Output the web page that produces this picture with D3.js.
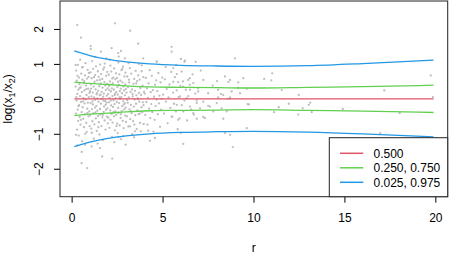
<!DOCTYPE html>
<html>
<head>
<meta charset="utf-8">
<script src="https://cdn.jsdelivr.net/npm/d3@7"></script>
<style>
  body { margin: 0; background: #fff; }
  text { font-family: "Liberation Sans", Arial, Helvetica, sans-serif; font-size: 12px; fill: #000; }
</style>
</head>
<body>
<svg width="449" height="254"></svg>
<script>
// observed log ratios: [r, log(x1/x2)]
var points = [
  [0.22,0.35],[0.24,-0.42],[0.25,0.81],[0.27,-0.05],[0.28,0.52],[0.3,-0.88],[0.31,0.14],[0.33,-0.31],[0.34,0.97],[0.36,-0.63],
  [0.37,0.26],[0.39,-1.05],[0.4,0.61],[0.41,-0.18],[0.43,0.42],[0.44,-0.52],[0.46,0.08],[0.47,1.12],[0.49,-0.74],[0.5,0.33],
  [0.52,-0.09],[0.53,0.72],[0.55,-0.38],[0.56,0.19],[0.58,-1.21],[0.59,0.55],[0.61,-0.24],[0.62,0.91],[0.64,-0.57],[0.65,0.02],
  [0.67,0.46],[0.68,-0.81],[0.7,0.24],[0.71,-0.13],[0.73,0.67],[0.74,-0.44],[0.76,1.02],[0.77,-0.02],[0.79,0.38],[0.8,-0.69],
  [0.82,0.11],[0.83,-0.95],[0.85,0.58],[0.86,-0.28],[0.88,0.83],[0.89,-0.11],[0.91,0.29],[0.92,-0.5],[0.94,0.05],[0.95,0.74],
  [0.97,-0.36],[0.98,0.17],[0.99,-0.78],[0.26,0.05],[0.32,0.66],[0.38,-0.21],[0.45,0.31],[0.51,-0.6],[0.57,0.9],[0.63,-0.07],
  [0.69,0.51],[0.75,-1.0],[0.81,0.28],[0.87,-0.4],[0.93,0.63],
  [1.01,0.22],[1.02,-0.47],[1.04,0.76],[1.05,-0.12],[1.06,0.41],[1.08,-0.85],[1.09,0.07],[1.1,0.59],[1.12,-0.3],[1.13,1.08],
  [1.14,-0.64],[1.16,0.18],[1.17,-0.16],[1.18,0.86],[1.2,-0.41],[1.21,0.35],[1.22,-1.14],[1.24,0.04],[1.25,-0.73],[1.26,0.49],
  [1.28,-0.25],[1.29,0.68],[1.3,-0.03],[1.32,0.27],[1.33,-0.56],[1.34,0.93],[1.36,-0.2],[1.37,0.13],[1.38,-0.92],[1.4,0.53],
  [1.41,-0.34],[1.42,0.01],[1.44,0.79],[1.45,-0.49],[1.46,0.23],[1.48,-0.08],[1.49,0.63],[1.5,-0.67],[1.52,0.36],[1.53,-1.02],
  [1.54,0.1],[1.56,-0.29],[1.57,0.98],[1.58,-0.45],[1.6,0.44],[1.61,-0.14],[1.62,0.71],[1.64,-0.78],[1.65,0.2],[1.66,-0.01],
  [1.68,0.57],[1.69,-0.53],[1.7,0.32],[1.72,-1.18],[1.73,0.06],[1.74,0.84],[1.76,-0.37],[1.77,0.15],[1.78,-0.22],[1.8,0.48],
  [1.81,-0.62],[1.82,1.01],[1.84,-0.06],[1.85,0.38],[1.86,-0.88],[1.88,0.25],[1.89,-0.31],[1.9,0.66],[1.92,-0.11],[1.93,0.09],
  [1.94,-0.51],[1.96,0.77],[1.97,-0.27],[1.98,0.3],[1.99,-0.7],[1.07,0.29],[1.15,-0.07],[1.23,0.62],[1.31,-0.39],[1.39,0.16],
  [1.47,-0.81],[1.55,0.54],[1.63,0.0],[1.71,-0.46],[1.79,0.9],[1.87,-0.17],[1.95,0.43],[1.11,-0.97],[1.27,1.2],[1.43,-1.28],
  [1.59,0.12],[1.75,-0.05],[1.91,1.16],
  [2.01,0.14],[2.02,-0.54],[2.04,0.69],[2.05,-0.1],[2.06,0.37],[2.08,-0.83],[2.09,0.03],[2.1,0.5],[2.12,-0.33],[2.13,0.95],
  [2.14,-0.6],[2.16,0.21],[2.17,-0.19],[2.18,0.78],[2.2,-0.43],[2.21,0.3],[2.22,-1.09],[2.24,0.08],[2.25,-0.68],[2.26,0.45],
  [2.28,-0.23],[2.29,0.61],[2.3,-0.04],[2.32,0.26],[2.33,-0.5],[2.34,0.87],[2.36,-0.15],[2.37,0.11],[2.38,-0.9],[2.4,0.56],
  [2.41,-0.36],[2.42,0.02],[2.44,0.73],[2.45,-0.46],[2.46,0.19],[2.48,-0.09],[2.49,0.6],[2.5,-0.71],[2.52,0.34],[2.53,-0.98],
  [2.54,0.12],[2.56,-0.26],[2.57,1.04],[2.58,-0.4],[2.6,0.4],[2.61,-0.12],[2.62,0.7],[2.64,-0.76],[2.65,0.22],[2.66,0.0],
  [2.68,0.52],[2.69,-0.55],[2.7,0.29],[2.72,-1.15],[2.73,0.05],[2.74,0.82],[2.76,-0.35],[2.77,0.16],[2.78,-0.21],[2.8,0.47],
  [2.81,-0.63],[2.82,0.92],[2.84,-0.07],[2.85,0.35],[2.86,-0.84],[2.88,0.24],[2.89,-0.3],[2.9,0.64],[2.92,-0.13],[2.93,0.1],
  [2.94,-0.48],[2.96,0.75],[2.97,-0.25],[2.98,0.28],[2.99,-0.66],[2.07,0.25],[2.15,-0.05],[2.23,0.58],[2.31,-0.37],[2.39,0.15],
  [2.47,-0.78],[2.55,0.49],[2.63,0.04],[2.71,-0.44],[2.79,0.86],[2.87,-0.16],[2.95,0.41],[2.11,1.12],[2.35,-1.24],[2.59,1.21],
  [2.83,-1.07],
  [3.02,0.18],[3.04,-0.5],[3.06,0.64],[3.08,-0.11],[3.1,0.33],[3.12,-0.79],[3.14,0.04],[3.16,0.47],[3.18,-0.3],[3.2,0.88],
  [3.22,-0.58],[3.24,0.2],[3.26,-0.17],[3.28,0.72],[3.3,-0.41],[3.32,0.27],[3.34,-1.01],[3.36,0.07],[3.38,-0.64],[3.4,0.43],
  [3.42,-0.22],[3.44,0.57],[3.46,-0.02],[3.48,0.23],[3.5,-0.47],[3.52,0.8],[3.54,-0.14],[3.56,0.1],[3.58,-0.86],[3.6,0.51],
  [3.62,-0.33],[3.64,0.01],[3.66,0.67],[3.68,-0.44],[3.7,0.17],[3.72,-0.08],[3.74,0.55],[3.76,-0.69],[3.78,0.31],[3.8,-0.93],
  [3.82,0.11],[3.84,-0.24],[3.86,0.96],[3.88,-0.38],[3.9,0.38],[3.92,-0.1],[3.94,0.62],[3.96,-0.72],[3.98,0.2],[3.05,-0.03],
  [3.15,0.55],[3.25,-0.35],[3.35,0.14],[3.45,-0.74],[3.55,0.44],[3.65,-0.01],[3.75,-0.42],[3.85,0.79],[3.95,-0.18],[3.13,1.02],
  [3.43,-1.1],[3.71,1.0],
  [4.02,0.15],[4.05,-0.46],[4.08,0.6],[4.11,-0.09],[4.14,0.3],[4.17,-0.74],[4.2,0.03],[4.23,0.44],[4.26,-0.28],[4.29,0.82],
  [4.32,-0.55],[4.35,0.19],[4.38,-0.15],[4.41,0.66],[4.44,-0.38],[4.47,0.25],[4.5,-0.94],[4.53,0.06],[4.56,-0.6],[4.59,0.4],
  [4.62,-0.2],[4.65,0.53],[4.68,-0.02],[4.71,0.22],[4.74,-0.44],[4.77,0.74],[4.8,-0.13],[4.83,0.09],[4.86,-0.8],[4.89,0.47],
  [4.92,-0.31],[4.95,0.0],[4.98,0.61],
  [5.03,0.12],[5.08,-0.42],[5.13,0.56],[5.18,-0.08],[5.23,0.28],[5.28,-0.7],[5.33,0.04],[5.38,0.41],[5.43,-0.26],[5.48,0.77],
  [5.53,-0.51],[5.58,0.18],[5.63,-0.14],[5.68,0.62],[5.73,-0.36],[5.78,0.24],[5.83,-0.87],[5.88,0.05],[5.93,-0.56],[5.98,0.37],
  [6.05,-0.18],[6.12,0.5],[6.2,-0.05],[6.28,0.26],[6.35,-0.62],[6.42,0.08],[6.5,0.4],[6.58,-0.3],[6.65,0.7],[6.72,-0.45],
  [6.8,0.15],[6.88,-0.12],[6.95,0.3],
  // sparser points and outliers
  [5.5,1.49],[5.5,1.35],[8.98,1.16],[6.01,1.14],[6.2,1.06],[6.82,1.06],[5.74,0.97],[4.68,1.06],[7.1,0.81],[9.44,0.59],
  [8.71,0.54],[8.0,0.51],[7.24,0.54],[6.5,0.59],[9.63,0.29],[9.16,0.31],[8.21,0.14],[8.71,0.04],[8.06,0.04],[7.51,-0.2],
  [8.53,-0.36],[7.24,-0.52],[6.0,-0.98],[6.14,-1.29],[8.43,-0.98],[8.71,-1.03],[8.86,-1.38],[6.23,1.09],[5.59,0.88],[6.05,0.78],
  [5.78,0.71],[5.59,0.49],[5.86,0.48],[6.41,0.54],[6.69,0.45],[7.76,0.38],[8.43,0.64],[8.62,0.48],[9.16,0.47],[6.14,0.35],
  [6.51,0.26],[6.96,0.21],[7.51,0.16],[8.06,0.26],[8.34,0.11],[8.8,0.21],[9.26,0.16],[5.96,0.07],[6.33,0.02],[6.88,-0.05],
  [7.24,-0.08],[7.98,-0.12],[8.71,0.02],[8.61,0.0],[5.78,-0.17],[6.51,-0.22],[7.06,-0.27],[7.61,-0.22],[8.25,-0.27],[6.14,-0.36],
  [6.69,-0.41],[7.33,-0.55],[5.5,-0.51],[5.86,-0.6],[6.88,-0.57],[7.79,-0.36],[8.34,-0.57],
  [11.03,0.73],[10.59,0.57],[10.98,0.53],[11.55,0.25],[12.49,0.11],[9.68,-0.15],[9.75,-0.16],[11.94,-0.14],[13.12,-0.11],[13.04,-0.17],
  [11.39,-0.24],[12.71,-0.27],[11.13,-0.38],[13.2,-0.38],[12.46,-0.45],[14.91,-0.29],[9.63,-0.84],[19.75,0.67],[17.19,0.24],[19.87,0.05],
  [18.04,-0.41],[16.97,-0.98],
  [0.31,2.11],[0.51,1.75],[2.38,2.16],[1.05,1.51],[1.05,1.43],[1.61,1.35],[2.2,1.45],[2.56,1.31],[0.22,0.97],[3.22,1.95],
  [3.66,1.58],[2.71,1.37],[3.94,1.16],[4.68,1.07],[5.17,0.91],[2.93,1.16],[0.55,-1.52],[1.68,-1.65],[2.23,-1.71],[0.55,-1.84],
  [0.86,-1.98],[0.31,-1.33],[0.74,-1.31],[1.1,-1.36],[1.56,-1.41],[0.24,-1.03],[2.97,-1.31],[4.31,-1.2],[4.58,-1.12],[3.21,-0.79],
  [3.48,-0.93],[4.21,-0.91],[2.56,-1.09]
];

// quantile curves
var qR    = [0.15, 1, 2, 3, 4.3, 6, 8, 10, 13, 16, 19.9];
var q975  = [1.37, 1.24, 1.13, 1.06, 1.0, 0.96, 0.94, 0.93, 0.95, 1.01, 1.11];
var q75   = [0.48, 0.44, 0.41, 0.37, 0.34, 0.33, 0.32, 0.31, 0.33, 0.35, 0.39];
var q50   = [0, 0, 0, 0, 0, 0, 0, 0, 0, 0, 0];
var q25   = [-0.48, -0.44, -0.41, -0.37, -0.34, -0.33, -0.32, -0.31, -0.33, -0.35, -0.39];
var q025  = [-1.37, -1.24, -1.13, -1.06, -1.0, -0.96, -0.94, -0.93, -0.95, -1.0, -1.09];

var xTicks = [0, 5, 10, 15, 20];
var yTicks = [-2, -1, 0, 1, 2];
var legendLabels = ["0.500", "0.250, 0.750", "0.025, 0.975"];
var legendColors = ["#DF536B", "#61D04F", "#2297E6"];

var svg = d3.select("svg");
var plotLeft = 60, plotRight = 447.7, plotTop = 1, plotBottom = 196.7;

var x = d3.scaleLinear().domain([-0.64, 20.68]).range([plotLeft, plotRight]);
var y = d3.scaleLinear().domain([-2.8, 2.8]).range([plotBottom, plotTop]);

// points
svg.append("g")
    .selectAll("circle")
    .data(points).enter()
    .append("circle")
    .attr("cx", function(d) { return x(d[0]); })
    .attr("cy", function(d) { return y(d[1]); })
    .attr("r", 1.15)
    .style("fill", "#bebebe");

// quantile lines
var line = d3.line()
    .x(function(d) { return x(d[0]); })
    .y(function(d) { return y(d[1]); })
    .curve(d3.curveMonotoneX);

var curves = [
    { q: q50, color: legendColors[0] },
    { q: q75, color: legendColors[1] },
    { q: q25, color: legendColors[1] },
    { q: q975, color: legendColors[2] },
    { q: q025, color: legendColors[2] }
];
curves.forEach(function(c) {
    svg.append("path")
        .datum(qR.map(function(r, i) { return [r, c.q[i]]; }))
        .attr("d", line)
        .style("fill", "none")
        .style("stroke", c.color)
        .style("stroke-width", 1.3);
});

// axes
var xAxis = svg.append("g").attr("transform", "translate(0," + plotBottom + ")")
    .call(d3.axisBottom(x).tickValues(xTicks).tickSize(6).tickPadding(8).tickSizeOuter(0));
xAxis.select(".domain").remove();
xAxis.selectAll("text").style("font-size", "12px").attr("dy", "0.95em");

var yAxis = svg.append("g").attr("transform", "translate(" + plotLeft + ",0)")
    .call(d3.axisLeft(y).tickValues(yTicks).tickSize(6).tickSizeOuter(0)
        .tickFormat(function(d) { return d < 0 ? "\u2212" + Math.abs(d) : d; }));
yAxis.select(".domain").remove();
yAxis.selectAll("text")
    .attr("x", null).attr("dy", null)
    .attr("text-anchor", "middle")
    .attr("transform", "translate(-17,0) rotate(-90)")
    .style("font-size", "12px");

svg.selectAll(".tick line").style("stroke", "#000");

// box
svg.append("rect")
    .attr("x", plotLeft).attr("y", plotTop)
    .attr("width", plotRight - plotLeft).attr("height", plotBottom - plotTop)
    .style("fill", "none").style("stroke", "#222").style("stroke-width", 1);

// axis titles
svg.append("text")
    .attr("x", (plotLeft + plotRight) / 2).attr("y", 252)
    .attr("text-anchor", "middle")
    .text("r");

var ylab = svg.append("text")
    .attr("transform", "translate(12," + ((plotTop + plotBottom) / 2) + ") rotate(-90)")
    .attr("text-anchor", "middle");
ylab.append("tspan").text("log(x");
ylab.append("tspan").attr("dy", 3).style("font-size", "9px").text("1");
ylab.append("tspan").attr("dy", -3).text("/x");
ylab.append("tspan").attr("dy", 3).style("font-size", "9px").text("2");
ylab.append("tspan").attr("dy", -3).text(")");

// legend
var legend = svg.append("g");
legend.append("rect")
    .attr("x", 329.3).attr("y", 137.7)
    .attr("width", plotRight - 329.3).attr("height", plotBottom - 137.7)
    .style("fill", "#fff").style("stroke", "#222");
legendLabels.forEach(function(lab, i) {
    var ly = 153.3 + i * 14.5;
    legend.append("line")
        .attr("x1", 340).attr("x2", 363.3)
        .attr("y1", ly).attr("y2", ly)
        .style("stroke", legendColors[i]).style("stroke-width", 1.5);
    legend.append("text")
        .attr("x", 373.5).attr("y", ly + 4.3)
        .text(lab);
});
</script>
</body>
</html>
